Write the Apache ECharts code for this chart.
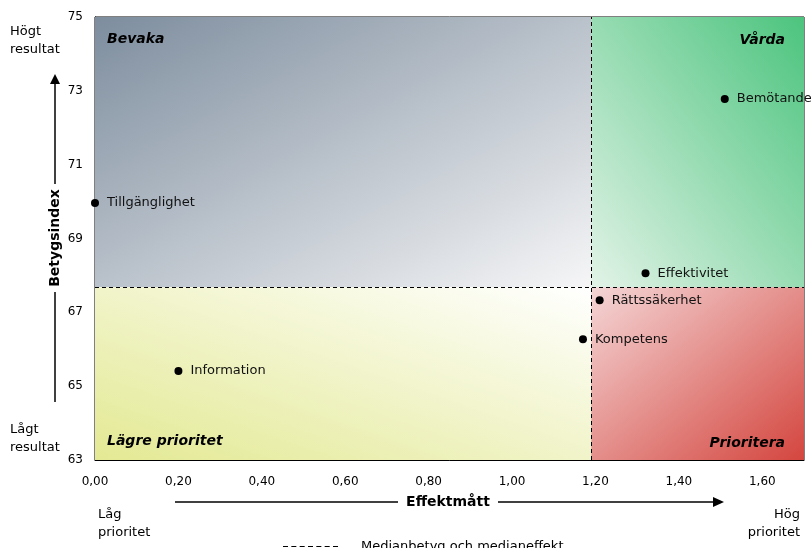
<!DOCTYPE html>
<html>
<head>
<meta charset="utf-8">
<style>
  html, body { margin: 0; padding: 0; background: #fff; }
  #chart { width: 811px; height: 548px; }
</style>
<script src="https://cdn.jsdelivr.net/npm/echarts@6/dist/echarts.min.js"></script>
</head>
<body>
<div id="chart"></div>
<script>
// Prioriteringsmatris: effektmått mot betygsindex
const categories = ['Tillgänglighet', 'Bemötande', 'Effektivitet', 'Rättssäkerhet', 'Kompetens', 'Information'];
const effektValues = [0.00, 1.51, 1.32, 1.21, 1.17, 0.20];
const betygValues = [69.96, 72.78, 68.06, 67.33, 66.27, 65.41];
const medianEffekt = 1.19;
const medianBetyg = 67.68;
const xTicks = [0, 0.2, 0.4, 0.6, 0.8, 1.0, 1.2, 1.4, 1.6];
const yTicks = [63, 65, 67, 69, 71, 73, 75];
const quadrantNames = ['Bevaka', 'Vårda', 'Lägre prioritet', 'Prioritera'];
const legendName = 'Medianbetyg och medianeffekt';

const FONT = 'DejaVu Sans, Verdana, sans-serif';
const xMin = 0, xMax = 1.7, yMin = yTicks[0], yMax = yTicks[yTicks.length - 1];

// Quadrant rectangles in data space: [x0, y0, x1, y1]
const quadrants = [
  [xMin, medianBetyg, medianEffekt, yMax],
  [medianEffekt, medianBetyg, xMax, yMax],
  [xMin, yMin, medianEffekt, medianBetyg],
  [medianEffekt, yMin, xMax, medianBetyg]
];
// Gradient start corner (relative) and colours for each quadrant
const quadStart = [[0, 0], [1, 0], [0, 1], [1, 1]];
const quadColors = [
  ['#7d8d9e', '#f6f6f7'],
  ['#4cc47e', '#e2f3e7'],
  ['#e3e993', '#ffffff'],
  ['#d4463f', '#f4d6d6']
];
const quadLabelPos = ['insideTopLeft', 'insideTopRight', 'insideBottomLeft', 'insideBottomRight'];
const quadLabelOffset = [[0, 3], [-7, 4], [0, 0], [-7, 2]];

// Diagonal gradient whose colour bands run parallel to the opposite diagonal
function diagGradient(w, h, sx, sy, c0, c1) {
  const dx = 1 - 2 * sx, dy = 1 - 2 * sy;
  const k = 2 * w * h / (w * w + h * h);
  return {
    type: 'linear', x: sx, y: sy,
    x2: sx + dx * h * k / w, y2: sy + dy * w * k / h,
    colorStops: [{ offset: 0, color: c0 }, { offset: 1, color: c1 }]
  };
}

const chart = echarts.init(document.getElementById('chart'), null, { renderer: 'canvas' });
const points = categories.map((c, i) => ({ name: c, value: [effektValues[i], betygValues[i]] }));

function buildAreas(sizeOf) {
  return quadrants.map((q, i) => {
    const s = sizeOf(q);
    return [
      {
        coord: [q[0], q[1]], name: quadrantNames[i],
        itemStyle: { color: diagGradient(s[0], s[1], quadStart[i][0], quadStart[i][1], quadColors[i][0], quadColors[i][1]) },
        label: {
          show: true, position: quadLabelPos[i], distance: 12, offset: quadLabelOffset[i],
          fontFamily: FONT, fontSize: 14, fontWeight: 'bold', fontStyle: 'italic', color: '#000'
        }
      },
      { coord: [q[2], q[3]] }
    ];
  });
}

const dashIcon = 'path://M0,0H6V1H0Z M10,0H16V1H10Z M20,0H26V1H20Z M30,0H36V1H30Z M40,0H46V1H40Z M50,0H56V1H50Z M60,0H66V1H60Z';

chart.setOption({
  animation: false,
  textStyle: { fontFamily: FONT },
  grid: { left: 95, right: 7, top: 17, bottom: 88, show: true, borderColor: '#000', borderWidth: 1, backgroundColor: 'transparent' },
  xAxis: {
    type: 'value', min: xMin, max: xMax, interval: 0.2,
    splitLine: { show: false },
    axisLine: { show: true, lineStyle: { color: '#000' } },
    axisTick: { show: false },
    axisLabel: {
      margin: 16, fontSize: 12, color: '#000', fontFamily: FONT,
      formatter: (v) => xTicks.some(t => Math.abs(t - v) < 1e-9) ? v.toFixed(2).replace('.', ',') : ''
    }
  },
  yAxis: {
    type: 'value', min: yMin, max: yMax, interval: 2,
    splitLine: { show: false },
    axisLine: { show: true, lineStyle: { color: '#000' } },
    axisTick: { show: false },
    axisLabel: { margin: 12, fontSize: 12, color: '#000', fontFamily: FONT }
  },
  legend: {
    data: [{ name: legendName, icon: dashIcon }], left: 278, top: 535,
    itemWidth: 55, itemHeight: 1.5,
    itemStyle: { opacity: 1 },
    textStyle: { fontFamily: FONT, fontSize: 13, color: '#000', padding: [0, 0, 0, 18] }
  },
  series: [
    {
      type: 'scatter', data: [], z: 1, silent: true,
      markArea: { silent: true, data: buildAreas(() => [1, 1]) }
    },
    {
      name: legendName, type: 'scatter', data: [], z: 3,
      itemStyle: { color: '#000', opacity: 1 },
      markLine: {
        silent: true, symbol: ['none', 'none'], label: { show: false },
        lineStyle: { color: '#000', width: 1, type: [4, 3] },
        data: [{ xAxis: medianEffekt }, { yAxis: medianBetyg }]
      }
    },
    {
      type: 'scatter', z: 5, data: points, symbolSize: 8, clip: false,
      itemStyle: { color: '#000', opacity: 1 },
      label: {
        show: true, position: 'right', distance: 8, formatter: '{b}',
        fontFamily: FONT, fontSize: 13, color: '#111', opacity: 1
      }
    }
  ],
  graphic: [
    // vertical arrow for Betygsindex
    { type: 'line', shape: { x1: 55, y1: 402, x2: 55, y2: 292 }, style: { stroke: '#000', lineWidth: 1.5 } },
    { type: 'line', shape: { x1: 55, y1: 184, x2: 55, y2: 83 }, style: { stroke: '#000', lineWidth: 1.5 } },
    { type: 'polygon', shape: { points: [[50, 84], [60, 84], [55, 74]] }, style: { fill: '#000' } },
    { type: 'text', x: 55, y: 238, rotation: Math.PI / 2,
      style: { text: 'Betygsindex', fontFamily: FONT, fontSize: 14, fontWeight: 'bold', fill: '#000', align: 'center', verticalAlign: 'middle' } },
    // horizontal arrow for Effektmått
    { type: 'line', shape: { x1: 175, y1: 502, x2: 398, y2: 502 }, style: { stroke: '#000', lineWidth: 1.5 } },
    { type: 'line', shape: { x1: 498, y1: 502, x2: 714, y2: 502 }, style: { stroke: '#000', lineWidth: 1.5 } },
    { type: 'polygon', shape: { points: [[713, 497], [713, 507], [724, 502]] }, style: { fill: '#000' } },
    { type: 'text', x: 448, y: 502,
      style: { text: 'Effektmått', fontFamily: FONT, fontSize: 14, fontWeight: 'bold', fill: '#000', align: 'center', verticalAlign: 'middle' } },
    // end labels
    { type: 'text', x: 10, y: 23, style: { text: 'Högt\nresultat', fontFamily: FONT, fontSize: 13, lineHeight: 18, fill: '#000' } },
    { type: 'text', x: 10, y: 421, style: { text: 'Lågt\nresultat', fontFamily: FONT, fontSize: 13, lineHeight: 18, fill: '#000' } },
    { type: 'text', x: 98, y: 506, style: { text: 'Låg\nprioritet', fontFamily: FONT, fontSize: 13, lineHeight: 18, fill: '#000' } },
    { type: 'text', x: 800, y: 506, style: { text: 'Hög\nprioritet', fontFamily: FONT, fontSize: 13, lineHeight: 18, fill: '#000', align: 'right' } }
  ]
});

// Recompute the gradients with the quadrants' actual pixel proportions
const sizeInPixels = (q) => {
  const a = chart.convertToPixel({ gridIndex: 0 }, [q[0], q[1]]);
  const b = chart.convertToPixel({ gridIndex: 0 }, [q[2], q[3]]);
  return [Math.abs(b[0] - a[0]), Math.abs(b[1] - a[1])];
};
chart.setOption({ series: [{ markArea: { data: buildAreas(sizeInPixels) } }] });
</script>
</body>
</html>
